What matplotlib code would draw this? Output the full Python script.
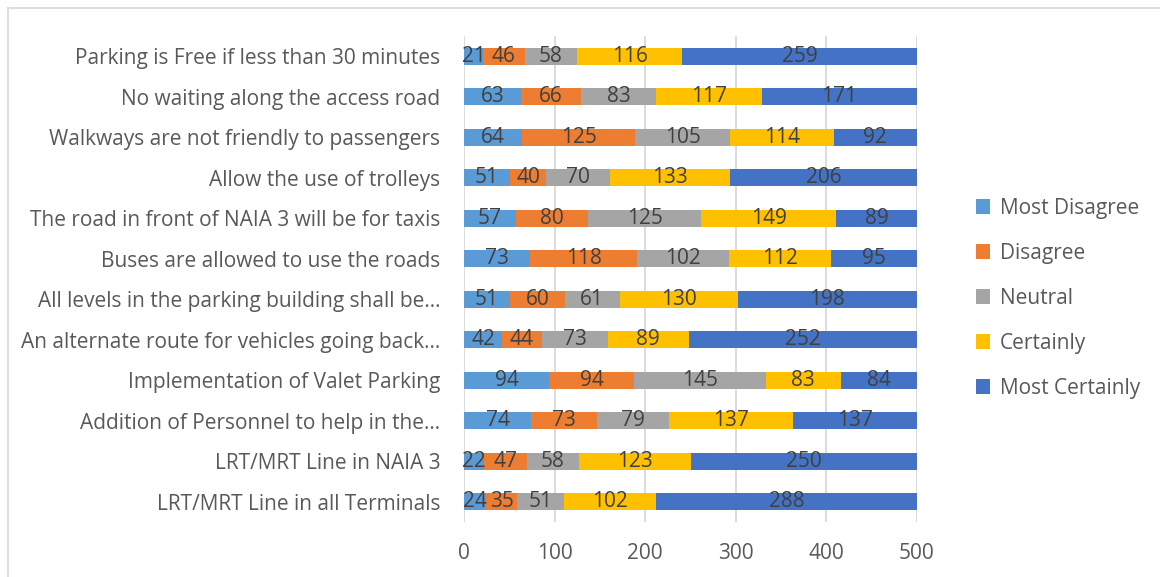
import matplotlib.pyplot as plt
from matplotlib.lines import Line2D
import numpy as np

categories = [
    "Parking is Free if less than 30 minutes",
    "No waiting along the access road",
    "Walkways are not friendly to passengers",
    "Allow the use of trolleys",
    "The road in front of NAIA 3 will be for taxis",
    "Buses are allowed to use the roads",
    "All levels in the parking building shall be\u2026",
    "An alternate route for vehicles going back\u2026",
    "Implementation of Valet Parking",
    "Addition of Personnel to help in the\u2026",
    "LRT/MRT Line in NAIA 3",
    "LRT/MRT Line in all Terminals",
]
most_disagree = [21, 63, 64, 51, 57, 73, 51, 42, 94, 74, 22, 24]
disagree = [46, 66, 125, 40, 80, 118, 60, 44, 94, 73, 47, 35]
neutral = [58, 83, 105, 70, 125, 102, 61, 73, 145, 79, 58, 51]
certainly = [116, 117, 114, 133, 149, 112, 130, 89, 83, 137, 123, 102]
most_certainly = [259, 171, 92, 206, 89, 95, 198, 252, 84, 137, 250, 288]

series_names = ["Most Disagree", "Disagree", "Neutral", "Certainly", "Most Certainly"]
series_values = [most_disagree, disagree, neutral, certainly, most_certainly]
colors = ["#5B9BD5", "#ED7D31", "#A5A5A5", "#FFC000", "#4472C4"]
x_ticks = [0, 100, 200, 300, 400, 500]

plt.rcParams['font.family'] = ['Open Sans', 'DejaVu Sans']
FS = 15

W, H = 1160, 577
fig = plt.figure(figsize=(W / 100, H / 100), dpi=100)
ax = fig.add_axes([464 / W, 1 - 522 / H, (917 - 464) / W, (522 - 36) / H])

y = np.arange(len(categories))
left = np.zeros(len(categories))
handles = []
for name, vals, col in zip(series_names, series_values, colors):
    vals = np.array(vals, dtype=float)
    bars = ax.barh(y, vals, left=left, height=0.41, color=col, label=name, zorder=2)
    for yi, l, v in zip(y, left, vals):
        ax.text(l + v / 2, yi, f"{int(v)}", ha='center', va='center',
                fontsize=FS, color='#404040', zorder=3)
    left += vals
    handles.append(bars)

ax.set_ylim(len(categories) - 0.5, -0.5)
ax.set_xlim(0, 500)
ax.set_xticks(x_ticks)
ax.set_xticklabels([str(t) for t in x_ticks])
ax.set_yticks(y)
ax.set_yticklabels(categories)
ax.tick_params(axis='y', length=0, pad=17, labelsize=FS, labelcolor='#595959')
ax.tick_params(axis='x', length=0, pad=15, labelsize=FS, labelcolor='#595959')
ax.xaxis.grid(True, color='#D9D9D9', linewidth=1.3, zorder=0)
ax.set_axisbelow(True)
for s in ax.spines.values():
    s.set_visible(False)

fig.legend(handles, series_names, loc='upper left',
           bbox_to_anchor=(957 / W, 1 - 179 / H), frameon=False,
           fontsize=FS, labelcolor='#595959', handlelength=0.7, handleheight=0.7,
           handletextpad=0.45, labelspacing=1.15)

# thin frame around the chart area
fig.add_artist(Line2D([8 / W, 8 / W], [0, 1 - 8 / H], transform=fig.transFigure,
                      color='#D9D9D9', linewidth=1.2))
fig.add_artist(Line2D([8 / W, 1], [1 - 8 / H, 1 - 8 / H], transform=fig.transFigure,
                      color='#D9D9D9', linewidth=1.2))

fig.savefig("out.png", dpi=100)
